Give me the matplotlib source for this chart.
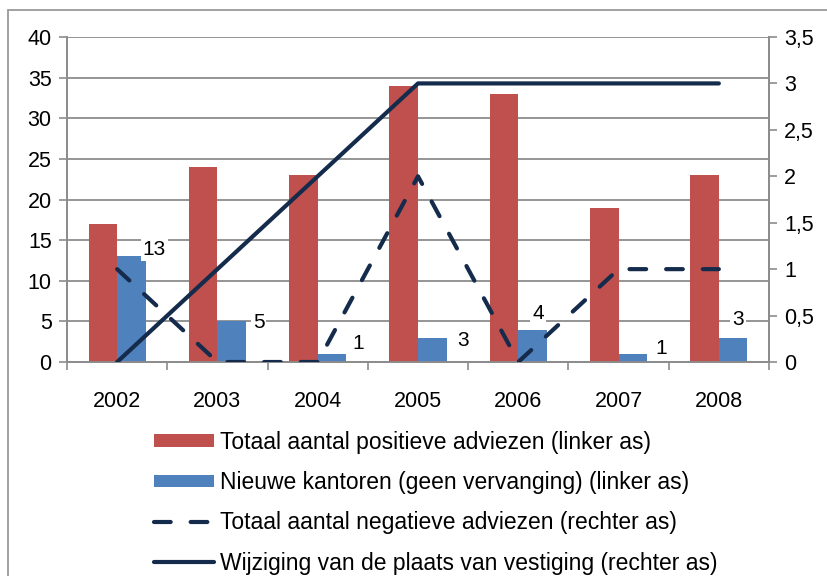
import numpy as np
import matplotlib.pyplot as plt
from matplotlib.patches import Rectangle
from matplotlib.ticker import FuncFormatter

plt.rcParams['font.family'] = ['Liberation Sans', 'DejaVu Sans']

# data
years = ['2002', '2003', '2004', '2005', '2006', '2007', '2008']
positief = [17, 24, 23, 34, 33, 19, 23]
nieuwe_kantoren = [13, 5, 1, 3, 4, 1, 3]
negatief = [1, 0, 0, 2, 0, 1, 1]
wijziging = [0, 1, 2, 3, 3, 3, 3]

label_pos = ['Totaal aantal positieve adviezen (linker as)',
             'Nieuwe kantoren (geen vervanging) (linker as)',
             'Totaal aantal negatieve adviezen (rechter as)',
             'Wijziging van de plaats van vestiging (rechter as)']

# where Excel dropped the data labels (offsets from the bar top)
lab_dx = [0.37, 0.41, 0.40, 0.45, 0.20, 0.42, 0.19]
lab_dy = [0.8, -0.2, 1.3, -0.3, 2.0, 0.7, 2.2]

RED = '#C0504D'
BLUE = '#4F81BD'
NAVY = '#142B4C'
GRID = '#8C8C8C'

fig = plt.figure(figsize=(8.27, 5.76), dpi=100)
ax = fig.add_axes([67/827, 1 - 362/576, (769 - 67)/827, (362 - 37)/576])
ax2 = ax.twinx()

# outer chart border
fig.patches.append(Rectangle((8/827, -0.05), 1.1, 1 - 10/576 + 0.05,
                             transform=fig.transFigure, fill=False,
                             edgecolor='#9A9A9A', linewidth=1.3))

x = np.arange(len(years))
w = 0.285
ax.bar(x - w/2, positief, w, color=RED, label=label_pos[0], zorder=3)
ax.bar(x + w/2, nieuwe_kantoren, w, color=BLUE, label=label_pos[1], zorder=3)

for i, v in enumerate(nieuwe_kantoren):
    ax.text(x[i] + lab_dx[i], v + lab_dy[i], str(v), fontsize=15,
            ha='center', va='center', zorder=4,
            bbox=dict(facecolor='white', edgecolor='none', pad=1.5))

ax2.plot(x, negatief, color=NAVY, linewidth=3, linestyle=(0, (4, 4.8)),
         dash_capstyle='round', label=label_pos[2], zorder=5)
ax2.plot(x, wijziging, color=NAVY, linewidth=3, solid_capstyle='round',
         label=label_pos[3], zorder=5)

ax.set_xlim(-0.5, len(years) - 0.5)
ax.set_ylim(0, 40)
ax.set_yticks(np.arange(0, 41, 5))
ax2.set_ylim(0, 3.5)
ax2.set_yticks(np.arange(0, 3.51, 0.5))
ax2.yaxis.set_major_formatter(FuncFormatter(lambda v, p: f'{v:g}'.replace('.', ',')))

ax.set_xticks(x)
ax.set_xticklabels(years)
ax.set_xticks(np.arange(-0.5, len(years)), minor=True)
ax.tick_params(axis='x', which='major', length=0, pad=21, labelsize=15.5)
ax.tick_params(axis='x', which='minor', length=6, width=1.2, color=GRID, direction='out')
ax.tick_params(axis='y', length=6, width=1.2, color=GRID, labelsize=15.5, pad=5)
ax2.tick_params(axis='y', length=6, width=1.2, color=GRID, labelsize=15.5, pad=5)

ax.grid(axis='y', color=GRID, linewidth=1.3, zorder=0)
ax.set_axisbelow(True)
for a in (ax, ax2):
    a.spines['top'].set_visible(False)
    for s in ('left', 'right', 'bottom'):
        a.spines[s].set_color(GRID)
        a.spines[s].set_linewidth(1.3)

h1, l1 = ax.get_legend_handles_labels()
h2, l2 = ax2.get_legend_handles_labels()
fig.legend(h1 + h2, l1 + l2, loc='upper left', bbox_to_anchor=(154/827, 1 - 431/576),
           frameon=False, fontsize=16.5, handlelength=2.6, handleheight=0.48,
           handletextpad=0.3, labelspacing=0.75, borderpad=0, borderaxespad=0)

plt.savefig('out.png', dpi=100)
